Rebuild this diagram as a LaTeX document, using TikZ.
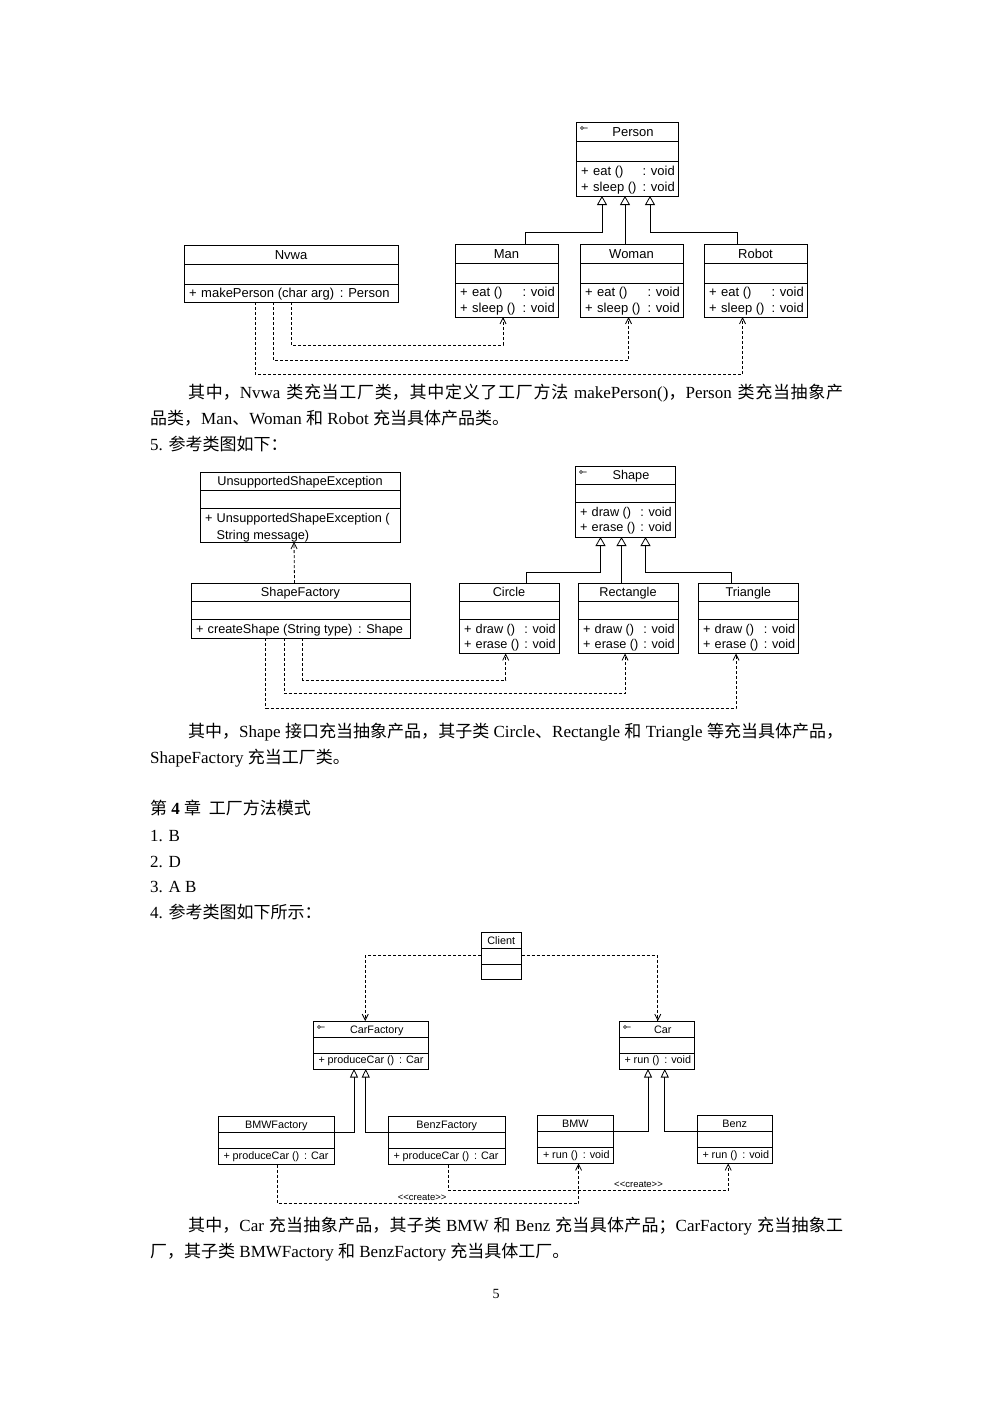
\documentclass[tikz,border=0pt]{standalone}
\usepackage{fontspec}
\setmainfont{Liberation Serif}
\newfontfamily\umlfont{Liberation Sans}
\newfontfamily\cjk{Noto Sans CJK SC}
\usetikzlibrary{arrows.meta}

\newcommand{\zh}[1]{{\cjk #1}}
% one justified line of body text
\newcommand{\fullline}[1]{\parbox[b]{655pt}{\parindent=0pt\parfillskip=0pt\XeTeXlinebreaklocale "zh"\XeTeXlinebreakskip=0pt plus 1pt\relax #1}}

% class box: [title shift] name, left, top, width, height, title
\newcommand{\umlclass}[7][0pt]{%
  \node[classbox, minimum width=#5pt, minimum height=#6pt, anchor=north west] (#2) at (#3,-#4) {};
  \draw[umlline] ([yshift=-\rowh]#2.north west) -- ([yshift=-\rowh]#2.north east);
  \draw[umlline] ([yshift=-2*\rowh]#2.north west) -- ([yshift=-2*\rowh]#2.north east);
  \node[umltext] (#2-title) at ([xshift=#1, yshift=-0.5*\rowh]#2.north) {#7};
}
% interface mark
\newcommand{\umlicon}[1]{%
  \draw[line width=0.6pt] ([xshift=6pt, yshift=-6pt]#1.north west) circle (1.5pt) ++(1.5pt,0) -- ++(4pt,0);
}
% operation: class, depth below top, name, type
\newcommand{\umlop}[4]{%
  \node[umltext, anchor=west] (#1-p#2) at ([xshift=\opplus, yshift=-#2pt]#1.north west) {+};
  \node[umltext, anchor=west] (#1-o#2) at ([xshift=\opname, yshift=-#2pt]#1.north west) {#3};
  \node[umltext, anchor=east] (#1-r#2) at ([xshift=-3pt, yshift=-#2pt]#1.north east) {#4};
}
% operation on one line
\newcommand{\umlopline}[3]{%
  \node[umltext, anchor=west] (#1-p#2) at ([xshift=\opplus, yshift=-#2pt]#1.north west) {+};
  \node[umltext, anchor=west] (#1-o#2) at ([xshift=\opname, yshift=-#2pt]#1.north west) {#3};
}

\begin{document}
\begin{tikzpicture}[x=1pt, y=1pt,
  classbox/.style={draw, line width=0.8pt, inner sep=0pt, outer sep=0pt},
  umlline/.style={line width=0.8pt},
  umltext/.style={inner sep=0pt, font=\umlfont\fontsize{\umlsize}{\umlsize}\selectfont, text height=\umlcap, text depth=0pt},
  gen/.style={line width=0.8pt, -{Triangle[open, length=\genlen, width=\genwid]}},
  dep/.style={line width=0.8pt, dash pattern=on 3pt off 2pt, -{Straight Barb[length=6pt, width=6pt]}},
  createtext/.style={inner sep=0pt, font=\umlfont\fontsize{9.5}{9.5}\selectfont, text height=6.8pt, text depth=0pt},
  body/.style={anchor=base west, inner sep=0pt, font=\fontsize{17}{26}\selectfont}]
\useasboundingbox (0,0) rectangle (992,-1403);
\fill[white] (0,0) rectangle (992,-1403);

% ---- Person / Nvwa
\def\rowh{19.5pt}\def\umlsize{13}\def\umlcap{9.3pt}
\def\opplus{5pt}\def\opname{17pt}\def\genlen{9pt}\def\genwid{10pt}
\umlclass[6pt]{person}{576}{122}{102}{74}{Person}
\umlicon{person}
\umlop{person}{49}{eat ()}{: void}
\umlop{person}{65}{sleep ()}{: void}
\umlclass{man}{455}{244}{103}{73}{Man}
\umlop{man}{48}{eat ()}{: void}
\umlop{man}{64}{sleep ()}{: void}
\umlclass{woman}{580}{244}{103}{73}{Woman}
\umlop{woman}{48}{eat ()}{: void}
\umlop{woman}{64}{sleep ()}{: void}
\umlclass{robot}{704}{244}{103}{73}{Robot}
\umlop{robot}{48}{eat ()}{: void}
\umlop{robot}{64}{sleep ()}{: void}
\umlclass{nvwa}{184}{245}{214}{57}{Nvwa}
\umlopline{nvwa}{48}{makePerson (char arg) \,: Person}

\draw[gen] ([xshift=18.5pt]man.north) |- ([xshift=-25pt, yshift=-36pt]person.south) -- ([xshift=-25pt]person.south);
\draw[gen] ([xshift=-6.5pt]woman.north) -- ([xshift=-2pt]person.south);
\draw[gen] ([xshift=-18.5pt]robot.north) |- ([xshift=23pt, yshift=-36pt]person.south) -- ([xshift=23pt]person.south);
\draw[dep] (nvwa.south) |- ([xshift=-3.5pt, yshift=-28pt]man.south) -- ([xshift=-3.5pt]man.south);
\draw[dep] ([xshift=-18pt]nvwa.south) |- ([xshift=-3pt, yshift=-43pt]woman.south) -- ([xshift=-3pt]woman.south);
\draw[dep] ([xshift=-36pt]nvwa.south) |- ([xshift=-13pt, yshift=-57pt]robot.south) -- ([xshift=-13pt]robot.south);

\node[body] (para1a) at (188,-398) {\fullline{\zh{其中，}Nvwa \zh{类充当工厂类，其中定义了工厂方法} makePerson()\zh{，}Person \zh{类充当抽象产}}};
\node[body] (para1b) at (150,-424) {\zh{品类，}Man\zh{、}Woman \zh{和} Robot \zh{充当具体产品类。}};
\node[body] (item5) at (150,-450) {5. \zh{参考类图如下：}};

% ---- Shape
\def\rowh{18pt}\def\umlsize{12.7}\def\umlcap{9pt}
\def\opplus{5pt}\def\opname{16.5pt}
\umlclass[6pt]{shape}{575}{466}{100}{71}{Shape}
\umlicon{shape}
\umlop{shape}{46}{draw ()}{: void}
\umlop{shape}{61}{erase ()}{: void}
\umlclass{circle}{459}{583}{100}{70.5}{Circle}
\umlop{circle}{46}{draw ()}{: void}
\umlop{circle}{61}{erase ()}{: void}
\umlclass{rectangle}{578}{583}{100}{70.5}{Rectangle}
\umlop{rectangle}{46}{draw ()}{: void}
\umlop{rectangle}{61}{erase ()}{: void}
\umlclass{triangle}{698}{583}{100.5}{70.5}{Triangle}
\umlop{triangle}{46}{draw ()}{: void}
\umlop{triangle}{61}{erase ()}{: void}
\umlclass{unsupported}{200}{472}{200}{70}{UnsupportedShapeException}
\umlopline{unsupported}{46}{UnsupportedShapeException (}
\node[umltext, anchor=west] (unsupported-o62) at ([xshift=\opname, yshift=-62.5pt]unsupported.north west) {String message)};
\umlclass{shapefactory}{191}{583}{219}{55}{ShapeFactory}
\umlopline{shapefactory}{46}{createShape (String type) \,: Shape}

\draw[gen] ([xshift=17pt]circle.north) |- ([xshift=-24.5pt, yshift=-35pt]shape.south) -- ([xshift=-24.5pt]shape.south);
\draw[gen] ([xshift=-6.5pt]rectangle.north) -- ([xshift=-3.5pt]shape.south);
\draw[gen] ([xshift=-17pt]triangle.north) |- ([xshift=20.5pt, yshift=-35pt]shape.south) -- ([xshift=20.5pt]shape.south);
\draw[dep] ([xshift=-6pt]shapefactory.north) -- ([xshift=-6pt]unsupported.south);
\draw[dep] ([xshift=2pt]shapefactory.south) |- ([xshift=-3.3pt, yshift=-26.5pt]circle.south) -- ([xshift=-3.3pt]circle.south);
\draw[dep] ([xshift=-16.5pt]shapefactory.south) |- ([xshift=-3pt, yshift=-40pt]rectangle.south) -- ([xshift=-3pt]rectangle.south);
\draw[dep] ([xshift=-35pt]shapefactory.south) |- ([xshift=-12.25pt, yshift=-54.5pt]triangle.south) -- ([xshift=-12.25pt]triangle.south);

\node[body] (para2a) at (188,-737) {\fullline{\zh{其中，}Shape \zh{接口充当抽象产品，其子类} Circle\zh{、}Rectangle \zh{和} Triangle \zh{等充当具体产品，}}};
\node[body] (para2b) at (150,-763) {ShapeFactory \zh{充当工厂类。}};
\node[body] (chapter) at (150,-814) {\zh{第} \textbf{4} \zh{章\ \ 工厂方法模式}};
\node[body] (ans1) at (150,-841) {1. B};
\node[body] (ans2) at (150,-867) {2. D};
\node[body] (ans3) at (150,-892) {3. A B};
\node[body] (ans4) at (150,-918) {4. \zh{参考类图如下所示：}};

% ---- Car
\def\rowh{16.3pt}\def\umlsize{10.8}\def\umlcap{7.8pt}
\def\opplus{5.5pt}\def\opname{14.5pt}\def\genlen{8.5pt}\def\genwid{8pt}
\umlclass{client}{481}{932}{40.5}{47.5}{Client}
\umlclass[6pt]{carfactory}{313}{1021}{115.5}{48}{CarFactory}
\umlicon{carfactory}
\umlopline{carfactory}{39}{produceCar () \,: Car}
\umlclass[6pt]{car}{619}{1021}{75.5}{48}{Car}
\umlicon{car}
\umlopline{car}{39}{run () \,: void}
\umlclass{bmwfactory}{218}{1116}{116.5}{48.5}{BMWFactory}
\umlopline{bmwfactory}{40}{produceCar () \,: Car}
\umlclass{benzfactory}{388}{1116}{117.5}{48.5}{BenzFactory}
\umlopline{benzfactory}{40}{produceCar () \,: Car}
\umlclass{bmw}{537.5}{1115}{75.5}{48.5}{BMW}
\umlopline{bmw}{40}{run () \,: void}
\umlclass{benz}{697}{1115}{75.5}{48.5}{Benz}
\umlopline{benz}{40}{run () \,: void}

\draw[dep] (client.west) -| ([xshift=-5.5pt]carfactory.north);
\draw[dep] (client.east) -| ([xshift=1pt]car.north);
\draw[gen] ([yshift=-16.3pt]bmwfactory.north east) -| ([xshift=-16.75pt]carfactory.south);
\draw[gen] ([yshift=-16.3pt]benzfactory.north west) -| ([xshift=-5pt]carfactory.south);
\draw[gen] ([yshift=-16.3pt]bmw.north east) -| ([xshift=-8.75pt]car.south);
\draw[gen] ([yshift=-16.3pt]benz.north west) -| ([xshift=8pt]car.south);
\draw[dep] ([xshift=1.5pt]bmwfactory.south) |- ([xshift=3.35pt, yshift=-40.2pt]bmw.south)
  node[createtext, pos=0.74, above=2.5pt] (create1) {<\kern0pt<create>\kern0pt>} -- ([xshift=3.35pt]bmw.south);
\draw[dep] ([xshift=1.25pt]benzfactory.south) |- ([xshift=-6.55pt, yshift=-26.5pt]benz.south)
  node[createtext, pos=0.84, above=2.5pt] (create2) {<\kern0pt<create>\kern0pt>} -- ([xshift=-6.55pt]benz.south);

\node[body] (para3a) at (188,-1231) {\fullline{\zh{其中，}Car \zh{充当抽象产品，其子类} BMW \zh{和} Benz \zh{充当具体产品；}CarFactory \zh{充当抽象工}}};
\node[body] (para3b) at (150,-1257) {\zh{厂，其子类} BMWFactory \zh{和} BenzFactory \zh{充当具体工厂。}};
\node[anchor=base, inner sep=0pt, font=\fontsize{14}{14}\selectfont] (pagenum) at (496,-1298) {5};
\end{tikzpicture}
\end{document}
